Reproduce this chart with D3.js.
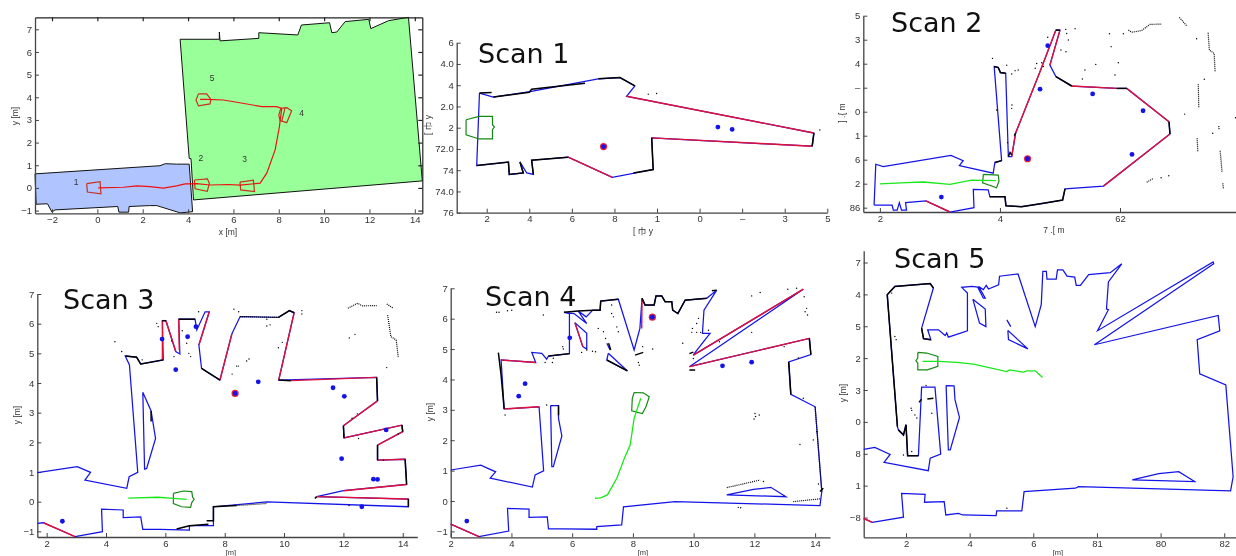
<!DOCTYPE html>
<html>
<head>
<meta charset="utf-8">
<script src="https://cdnjs.cloudflare.com/ajax/libs/d3/7.8.5/d3.min.js"></script>
<style>
html, body { margin: 0; padding: 0; background: #fff; overflow: hidden; }
svg { display: block; filter: blur(0.3px); }
text { font-family: "Liberation Sans", "Noto Sans CJK SC", sans-serif; fill: #333; }
.title { font-family: "DejaVu Sans", sans-serif; font-size: 27px; fill: #111; }
.tick text { font-size: 9.5px; }
.lbl { font-size: 8.5px; }
.lbl.low { font-size: 7.5px; }
</style>
</head>
<body>
<svg id="fig" width="1236" height="556"></svg>
<script>
// overview map
var mapBlue = [[-2.75,.62],[2.76,.98],[3,1.07],[3.5,1.05],[4.05,1.05],[4.2,-1.05],[3.65,-1.1],[2.62,-.78],[2.3,-.78],[1.4,-.82],[1.38,-1.07],[.95,-1.07],[.9,-.82],[-1.87,-.97],[-2,-1.07],[-2.2,-.7],[-2.7,-.72]];
var mapGreen = [[3.65,6.56],[5.38,6.56],[5.38,6.88],[5.41,6.49],[7.12,6.6],[7.12,6.85],[8.84,6.75],[9,7.19],[10.24,7.29],[10.34,6.85],[10.56,6.88],[10.93,7.34],[11.97,7.44],[12.06,7.03],[12.84,7.38],[13.72,7.53],[14.33,.31],[4.24,-.53],[4.13,1.29],[4.05,1.3]];
var mapPath = [[.04,0],[1.15,.03],[1.74,.09],[2.32,.06],[2.91,-.01],[3.5,.09],[3.87,.18],[4.38,.19],[4.97,.13],[5.78,.15],[6.29,.12],[7.18,.21],[7.47,.65],[7.84,1.68],[8.03,2.71],[8.13,3.51],[7.91,3.59],[7.25,3.59],[6.15,3.78],[5.56,3.88],[4.82,3.91],[4.53,3.91]];
var mapRobots = [
  [[-.47,.19],[.12,.28],[.16,-.26],[-.44,-.18]],
  [[4.28,.35],[4.85,.4],[4.94,.21],[4.85,-.15],[4.31,-.04]],
  [[6.29,.26],[6.88,.34],[6.93,-.16],[6.32,-.09]],
  [[8.09,3.51],[8.35,3.54],[8.57,3.41],[8.35,2.88],[8.06,2.97],[8,3.22]],
  [[4.46,4.15],[4.82,4.15],[5.01,3.91],[4.97,3.71],[4.46,3.62],[4.35,3.88]]
];
var mapRobotEdge = [[8.28,3.54],[8.13,2.93]];
var mapMarks = ["1","2","3","4","5"];
var mapMarkPos = [[-.94,.13],[4.56,1.19],[6.49,1.15],[9.01,3.16],[5.06,4.72]];

// scan 1
var s1Map = [[[1.66,3.63],[1.53,.22],[3.02,.38],[3.06,-.2],[3.72,-.13],[3.56,.39],[3.88,-.13],[4.19,-.2],[4.11,.47],[5.83,.61],[7.9,-.34],[9.82,.03],[9.75,1.52],[17.29,1.13],[17.37,1.75],[8.57,3.48],[8.96,3.97],[8.26,4.36],[7.24,4.3],[4.03,3.7],[2.31,3.44],[1.66,3.63]]];
var s1Red = [[[5.83,.61],[7.9,-.34]],[[9.75,1.52],[17.29,1.13]],[[17.37,1.75],[8.57,3.48]]];
var s1Scan = [[[1.53,.22],[3.02,.38],[3.06,-.2],[3.72,-.13],[3.56,.39]],[[4.19,-.2],[4.11,.47],[5.83,.61]],[[8.89,-.13],[9.82,.03],[9.75,1.52]],[[17.29,1.13],[17.37,1.75]],[[8.96,3.97],[8.26,4.36],[7.24,4.3]],[[6.62,4.09],[4.11,3.81],[4,3.67],[2.31,3.44]],[[1.66,3.63],[2.23,3.66]]];
var s1Dots = [[9.59,3.58],[9.98,3.61],[17.65,1.89]];
var s1Stars = [[12.86,2.03],[13.53,1.92]];
var s1Hit = [7.49,1.11];
var s1Robot = [[1.03,2.375],[1.64,2.53],[2.27,2.53],[2.27,2.14],[2.36,2.03],[2.27,1.91],[2.27,1.47],[1.64,1.47],[1.03,1.67]];
var s1Path = [];
var s1XLabels = ["2","4","6","8","1","0","–","3","5"];
var s1YLabels = ["76","74.0","74","72.0","2","2.0","4","4.0","6"];

// scan 2
var s2Map = [[[1.76,.11],[1.83,1.81],[2.14,1.71],[4.96,2.18],[5.47,1.96],[5.31,1.75],[6.72,1.44],[6.79,1.88],[7.07,1.96],[6.76,5.88],[6.93,5.84],[7.02,5.63],[7.24,5.6],[7.35,2.13],[7.49,2.125],[7.65,3.1],[8.67,5.67],[9.33,7.4],[9.5,7.4],[9.08,5.94],[9.33,5.46],[9.99,5.07],[11.86,4.97],[12.28,4.97],[14.04,3.58],[14.08,3.07],[11.31,.9],[9.71,.78],[9.61,.32],[8.81,.18],[7.9,.04],[7.25,.08],[7.21,.46],[6.58,.46],[6.51,.74],[5.89,.76],[5.92,0],[4.92,-.18],[3.92,.28],[3.07,.21],[3.11,-.1],[2.9,-.1],[2.81,.21],[2.72,-.1],[2.56,-.1],[2.51,.11],[1.76,.11]]];
var s2Red = [[[7.49,2.125],[7.65,3.1],[8.67,5.67],[9.33,7.4]],[[9.5,7.4],[9.08,5.94]],[[9.99,5.07],[11.86,4.97]],[[12.28,4.97],[14.04,3.58]],[[14.08,3.07],[11.31,.9]],[[4.92,-.18],[3.92,.28]]];
var s2Scan = [[[6.79,1.88],[7.07,1.96]],[[7.35,2.13],[7.42,2.3],[7.49,2.2]],[[7.6,3.0],[7.65,3.1]],[[9.33,7.4],[9.5,7.4]],[[9.33,5.46],[9.99,5.07]],[[11.86,4.97],[12.28,4.97]],[[14.04,3.58],[14.08,3.07]],[[9.71,.78],[9.61,.32],[8.81,.18],[7.9,.04],[7.25,.08],[7.21,.46],[6.58,.46]],[[6.76,5.88],[6.93,5.84],[7.02,5.63],[7.24,5.6]]];
var s2Dots = [[6.69,6.22],[8.99,7.1],[9.74,7.43],[9.78,7.26],[9.85,6.99],[10.13,7.46],[11.56,7.25],[12.14,7.25],[9.54,6.57],[9.75,6.5],[11.63,6.71],[11.93,6.04],[10.99,5.97],[10.54,5.74],[11.79,5.53],[10.43,5.36],[8.53,6.01],[8.74,6.04],[8.47,5.81],[8.81,5.88],[7.28,5.94],[7.49,5.57],[7.76,5.74],[7.63,5.71],[6.86,4.07],[7.5,4.28],[7.49,4.14],[14.69,3.9],[15.51,5.35],[15.19,7.04],[16.81,3.75],[15.86,3.1],[13.71,1.25],[14.03,1.33],[7.32,2.71]];
var s2Runs = [[[12.35,7.4],[12.49,7.31],[12.9,7.38],[13.25,7.64],[13.74,7.65]],[[14.47,7.93],[14.78,7.57]],[[15.67,7.29],[15.72,6.57],[15.92,6.43],[15.96,5.67]],[[15.26,5.14],[15.28,4.18]],[[15.21,2.89],[15.24,2.33]],[[16.17,2.375],[16.25,1.47]],[[16.28,1.01],[16.31,.76]],[[16.11,3.4],[16.13,3.24]],[[13.11,1.06],[13.39,1.22]]];
var s2Stars = [[8.99,6.75],[8.67,4.94],[10.86,4.74],[12.96,4.04],[12.5,2.22],[4.56,.44]];
var s2Hit = [8.15,2.04];
var s2Robot = [[6.31,1.39],[6.93,1.36],[6.96,1.11],[6.93,1.03],[6.86,.83],[6.28,1.04]];
var s2Path = [[2,.99],[3.11,1.04],[3.81,1.07],[4.92,.97],[5.82,1.15],[6.83,1.13]];
var s2XLabels = ["2","4","62"];
var s2YLabels = ["86","2","6","1","0","–","4","3","5"];

// scan 3
var s3Map = [
  [[1.69,.98],[3.03,1.18],[3.48,.99],[3.29,.73],[4.7,.45],[4.78,.84],[5.07,.99],[4.79,4.61],[4.65,4.91],[5.03,4.87],[5.17,4.64],[5.93,4.78],[5.9,6.1],[6.02,6.1],[6.35,5.06],[6.49,4.98],[6.45,6.15],[7,6.15],[7.06,5.79],[7.34,6.4],[7.48,6.4],[7.13,5.28],[7.22,4.49],[7.84,4.1],[8.24,5.65],[8.52,6.24],[9.81,6.21],[10.18,6.44],[10.34,6.37],[9.82,4.1],[13.12,4.19],[13.15,3.4],[12,2.56],[12.02,2.15],[13.97,2.58],[14,2.36],[13.15,1.91],[13.15,1.4],[14.08,1.43],[14.13,.58],[12,.37],[11.1,.17],[14.19,.09],[14.19,-.17],[9.42,-.01],[7.62,-.17],[7.62,-.81],[6.81,-.81],[6.81,-.955],[5.82,-.93],[5.24,-.93],[5.17,-.51],[4.58,-.54],[4.58,-.28],[3.85,-.25],[3.88,-1.01],[2.96,-1.18],[1.89,-.71],[1.69,-.73]],
  [[5.24,3.69],[5.52,3.06],[5.67,2.13],[5.37,1.12],[5.3,1.1],[5.24,3.69]]
];
var s3Red = [[[1.89,-.71],[2.96,-1.18]],[[5.9,4.78],[5.9,6.1]],[[6.02,6.1],[6.35,5.06]],[[6.45,6.15],[6.47,5.11]],[[7.48,6.4],[7.13,5.28]],[[7.84,4.1],[8.24,5.65]],[[9.82,4.1],[10.34,6.37]],[[10.23,4.08],[13.12,4.19]],[[13.15,3.4],[12,2.56]],[[12.02,2.15],[13.97,2.58]],[[14,2.36],[13.15,1.91]],[[13.15,1.4],[14.08,1.43]],[[14.13,.58],[12,.37]],[[11.1,.17],[14.19,.09]]];
var s3Scan = [[[4.65,4.91],[5.03,4.87],[5.17,4.64],[5.93,4.78]],[[5.9,6.1],[6.02,6.1]],[[6.45,6.15],[7,6.15]],[[7.22,4.49],[7.84,4.1]],[[9.81,6.21],[10.18,6.44],[10.34,6.37]],[[9.82,4.1],[10.23,4.08]],[[13.12,4.19],[13.15,3.4]],[[12,2.56],[12.02,2.15]],[[13.97,2.58],[14,2.36]],[[13.15,1.91],[13.15,1.4]],[[14.08,1.43],[14.13,.58]],[[11.1,.17],[11.04,.11]],[[14.19,.09],[14.19,-.17]],[[5.52,3.06],[5.52,2.7]],[[6.38,-.92],[6.81,-.81],[7.45,-.76]],[[7.39,-.64],[7.62,-.64],[7.62,-.17],[8.4,-.13]]];
var s3Dots = [[4.3,5.39],[4.53,5.06],[5.22,4.78],[5.71,6.01],[5.76,5.9],[6.21,5.42],[6.57,5.76],[6.72,5.34],[6.79,5],[6.85,4.89],[6.29,4.89],[7.12,6.4],[8.31,6.49],[8.47,6.4],[9.42,6.15],[9.42,5.92],[9.53,5.96],[9.81,5.19],[9.94,5.37],[10.6,6.44],[10.6,6.33],[8.25,4.3],[8.4,4.57],[8.46,4.57],[8.74,4.74],[8.82,4.81],[12.2,5.52],[12.39,5.64],[13.46,4.52],[12.47,2.96],[12.29,2.81],[12.51,2.13],[12.19,-.13],[13.35,1.4],[13.85,2.28]];
var s3Runs = [[[12.15,6.52],[12.48,6.69],[12.62,6.6],[13.12,6.61]],[[13.46,6.66],[13.69,6.52]],[[13.49,6.29],[13.6,5.56],[13.78,5.45],[13.85,4.85]],[[8.52,6.24],[9.81,6.21]],[[8.4,-.13],[9.42,-.06]]];
var s3Stars = [[5.89,5.48],[6.35,4.45],[6.75,5.56],[7.03,5.9],[9.13,4.04],[11.65,3.84],[12.03,3.55],[13.44,2.42],[11.94,1.45],[13.01,.76],[13.15,.75],[12.62,-.17],[2.53,-.66]];
var s3Hit = [8.35,3.65];
var s3Robot = [[6.27,.28],[6.61,.36],[6.89,.34],[6.92,.15],[6.97,.08],[6.89,-.03],[6.85,-.19],[6.55,-.17],[6.27,-.06]];
var s3Path = [[4.75,.12],[5.76,.15],[6.27,.11],[6.72,.08]];
var s3XLabels = ["2","4","6","8","10","12","14"];
var s3YLabels = ["−1","0","1","2","3","4","5","6","7"];

// scan 4
var s4Map = [
  [[2,1.02],[2.99,1.18],[3.48,.96],[3.3,.75],[4.69,.46],[4.78,.86],[5.06,.99],[4.91,3.1],[3.76,3.03],[3.66,4.64],[4.8,4.56],[4.67,4.89],[5,4.86],[5.16,4.67],[5.22,4.77],[5.91,4.85],[5.91,6.17],[5.73,6.21],[6.06,6.17],[6.48,5.84],[6.2,6.25],[6.46,6.06],[6.68,6.28],[6.92,6.28],[6.94,6.58],[7.52,6.64],[8.04,4.97],[8.23,5.68],[8.3,6.67],[8.4,6.45],[8.7,6.45],[8.76,6.75],[8.95,6.75],[9.06,6.56],[9.28,6.56],[9.31,6.28],[9.48,6.17],[9.72,6.61],[10.43,6.67],[10.76,6.94],[10.34,6.28],[10.29,5.52],[10.54,5.52],[10.05,4.89],[9.99,4.8],[13.61,6.97],[9.86,4.42],[13.81,5.35],[13.86,4.82],[13.13,4.58],[13.2,3.51],[14,3.1],[14.22,.31],[14.16,-.15],[9.39,-.02],[7.69,-.19],[7.63,-.79],[6.81,-.84],[6.81,-.93],[5.66,-.92],[5.22,-.92],[5.18,-.52],[4.58,-.54],[4.58,-.27],[3.87,-.24],[3.91,-.99],[2.93,-1.17],[2,-.76]],
  [[6.09,5.87],[6.35,5.08],[6.48,5],[6.48,5.52],[6.09,5.87]],
  [[7.19,4.86],[7.82,4.28],[7.14,4.64],[7.19,4.86]],
  [[5.29,3.14],[5.55,3.14],[5.55,2.72],[5.66,2.14],[5.38,1.13],[5.33,1.13],[5.29,3.14]],
  [[11.09,.2],[11.97,.38],[12.54,.45],[13.04,.14],[11.09,.2]],
  [[7.14,5.19],[7.25,4.97]]
];
var s4Red = [[[2,-.76],[2.93,-1.17]],[[3.76,3.03],[4.91,3.1]],[[3.66,4.64],[4.8,4.56]],[[6.09,5.87],[6.35,5.08]],[[8.3,6.67],[8.29,5.68]],[[9.99,4.8],[13.61,6.97]],[[9.86,4.42],[13.81,5.35]]];
var s4Scan = [[[3.57,4.88],[3.66,4.14],[3.76,3.03]],[[5.22,4.77],[5.91,4.85]],[[5.73,6.21],[6.2,6.25],[6.68,6.28],[6.92,6.28],[6.94,6.58],[7.52,6.64]],[[8.3,6.67],[8.4,6.45],[8.7,6.45],[8.76,6.75],[8.95,6.75],[9.06,6.56],[9.28,6.56],[9.31,6.28],[9.48,6.17],[9.72,6.61],[10.43,6.67]],[[10.6,6.92],[10.76,6.94]],[[13.81,5.35],[13.86,4.82]],[[13.13,4.58],[13.2,3.51]],[[5.55,3.14],[5.55,2.82]],[[14.16,.31],[14.27,.42]],[[8.07,4.8],[8.34,4.89]],[[7.2,5.19],[7.27,4.97]],[[7.14,4.64],[7.82,4.28]],[[9.86,4.85],[9.99,4.9]],[[9.86,4.31],[10.05,4.31]]];
var s4Dots = [[3.51,6.21],[3.59,6.21],[3.87,6.26],[4.01,6.28],[5.05,6.12],[5.69,5.08],[5.71,5],[5.11,4.56],[5.35,4.56],[5.38,4.7],[3.79,2.83],[5.16,3.16],[5.33,3.14],[6.31,4.89],[6.48,4.97],[6.77,4.91],[6.67,4.93],[6.86,5.68],[7.03,5.57],[7.1,5.35],[7.3,6.17],[7.36,6.06],[7.3,6.45],[7.47,5.73],[7.52,5.57],[8.18,4.56],[8.21,4.47],[8.65,5],[8.32,5.08],[9.64,5.19],[9.96,5.68],[9.94,5.55],[10.1,5.55],[10.23,5.55],[10.49,5.62],[10.16,6.01],[10.1,5.84],[9.99,4.69],[10.85,5.24],[11.91,5.55],[11.91,6.75],[12.19,6.86],[13.1,6.97],[13.39,7],[13.64,6.72],[13.72,6.34],[13.67,6.23],[13.75,6.12],[12.98,5.08],[13.45,4.71],[13.61,3.38],[12.02,2.88],[12.16,2.83],[11.99,2.7],[12.04,2.78],[13.5,1.86],[13.94,2.01],[12.3,.64],[11.47,-.21],[11.55,-.22],[14.11,.56],[14.05,2.28]];
var s4Runs = [[[14,3.1],[14.22,.31]],[[13.28,-.02],[14.16,.07]],[[11.09,.44],[12.19,.69]]];
var s4Stars = [[2.53,-.66],[4.24,3.45],[4.45,3.86],[5.92,5.37],[10.95,4.45],[11.91,4.57]];
var s4Hit = [8.64,6.05];
var s4Robot = [[8.04,3.57],[8.34,3.56],[8.54,3.43],[8.43,3.1],[8.31,2.88],[7.96,2.97],[7.98,3.38]];
var s4Path = [[6.75,.09],[6.94,.1],[7.16,.2],[7.47,.75],[7.74,1.46],[7.91,1.84],[8.04,2.72],[8.26,3.38]];
var s4XLabels = ["2","4","6","8","10","12","14"];
var s4YLabels = ["−1","0","1","2","3","4","5","6","7"];

// scan 5
var s5Map = [
  [[.67,1.14],[1.02,1.2],[1.5,.98],[1.31,.73],[2.7,.47],[2.76,.86],[3.09,.99],[2.91,3.09],[2.49,3.09],[2.39,.94],[2.05,.94],[2,1.91],[1.92,1.59],[1.76,1.75],[1.73,1.85],[1.41,5.99],[1.65,6.25],[2.76,6.34],[2.86,6.2],[2.49,4.94],[2.55,4.61],[2.78,4.58],[2.68,4.89],[3.02,4.89],[3.23,4.71],[3.28,4.79],[3.33,4.66],[3.93,4.86],[3.93,6.04],[3.75,6.22],[4.07,6.25],[4.25,6.23],[4.43,5.88],[4.49,5.88],[4.28,6.25],[4.43,6.15],[4.52,6.28],[4.59,6.17],[4.91,6.3],[4.94,6.57],[5.52,6.64],[6.06,4.99],[6.25,5.68],[6.3,6.72],[6.41,6.72],[6.43,6.48],[6.72,6.48],[6.76,6.77],[6.93,6.77],[7.06,6.57],[7.3,6.54],[7.35,6.28],[7.48,6.28],[7.74,6.62],[8.42,6.68],[8.78,6.96],[8.36,6.39],[8.3,5.54],[8.36,5.52],[8.02,4.86],[11.65,7.02],[11.67,6.96],[7.92,4.42],[11.81,5.34],[11.86,4.86],[11.15,4.58],[11.23,3.51],[12.05,3.16],[12.28,.28],[12.2,-.16],[7.42,-.03],[7.32,-.08],[5.71,-.19],[5.64,-.79],[4.85,-.79],[4.83,-.94],[3.78,-.92],[3.65,-.87],[3.25,-.92],[3.2,-.5],[2.58,-.52],[2.6,-.27],[1.86,-.24],[1.92,-.99],[.94,-1.15],[.67,-1.03]],
  [[4.1,5.85],[4.31,5.1],[4.51,4.99],[4.49,5.54],[4.1,5.85]],
  [[5.17,5.2],[5.29,4.99]],
  [[5.2,4.87],[5.83,4.29],[5.22,4.58],[5.2,4.87]],
  [[3.26,3.14],[3.51,3.13],[3.54,2.69],[3.68,2.14],[3.39,1.12],[3.33,1.12],[3.26,3.14]],
  [[9.11,.18],[9.94,.38],[10.57,.44],[11.07,.13],[9.11,.18]]
];
var s5Red = [[[.67,-1.03],[.94,-1.15]]];
var s5Scan = [[[1.73,1.85],[1.41,5.99],[1.65,6.25],[2.76,6.34],[2.86,6.2]],[[1.76,1.75],[1.92,1.59],[2,1.91],[2.05,.94],[2.39,.94]],[[2.49,4.94],[2.55,4.61],[2.78,4.58]],[[2.41,2.62],[2.49,2.71]],[[2.67,2.72],[2.86,2.74]]];
var s5Dots = [[2.16,2.43],[2.18,2.36],[2.28,2.22],[2.34,2.12],[2.81,2.27],[1.65,4.68],[1.69,4.58],[1.92,.96],[2.18,1.07],[2.63,3.14],[5.17,-.71],[1.5,6.09],[1.55,6.04]];
var s5Robot = [[2.37,4.18],[2.65,4.16],[3,4.05],[3,3.74],[2.67,3.63],[2.37,3.63],[2.37,3.84],[2.31,3.92],[2.37,4]];
var s5Path = [[2.52,3.9],[3.02,3.9],[3.6,3.87],[4.12,3.81],[5.17,3.58],[5.25,3.63],[5.69,3.56],[5.8,3.6],[6.06,3.6],[6.29,3.39]];
var s5XLabels = ["2","4","6","81","80","82"];
var s5YLabels = ["−8","1","8","0","3","2","5","4","7"];

var svg = d3.select("#fig");
var line = function(x, y) {
  return d3.line().x(function(d) { return x(d[0]); }).y(function(d) { return y(d[1]); });
};

function drawAxes(p) {
  var g = svg.append("g");
  var xAxis = d3.axisBottom(p.x).tickValues(p.xTicks).tickSizeInner(-4).tickSizeOuter(0).tickPadding(3)
    .tickFormat(function(d, i) { return p.xLabels[i]; });
  var yAxis = d3.axisLeft(p.y).tickValues(p.yTicks).tickSizeInner(-4).tickSizeOuter(0).tickPadding(3)
    .tickFormat(function(d, i) { return p.yLabels[i]; });
  g.append("g").attr("transform", "translate(0," + p.y.range()[0] + ")").call(xAxis);
  g.append("g").attr("transform", "translate(" + p.x.range()[0] + ",0)").call(yAxis);
  g.selectAll(".domain").attr("stroke", "#444").attr("stroke-width", 1.3);
  g.selectAll(".tick line").attr("stroke", "#444");
  return g;
}

function drawLines(data, x, y, color, w, dash) {
  svg.append("g").selectAll("path").data(data).enter().append("path")
    .attr("d", line(x, y))
    .attr("fill", "none")
    .attr("stroke", color)
    .attr("stroke-width", w)
    .attr("stroke-dasharray", dash || null);
}

function drawScan(p, s) {
  drawLines(s.map, p.x, p.y, "#1414e8", 1.25);
  drawLines(s.red, p.x, p.y, "#e0103a", 1.4);
  drawLines(s.scan, p.x, p.y, "#000", 1.5);
  drawLines(s.runs || [], p.x, p.y, "#000", 1.2, "1 1");
  svg.append("g").selectAll("circle").data(s.dots).enter().append("circle")
    .attr("cx", function(d) { return p.x(d[0]); })
    .attr("cy", function(d) { return p.y(d[1]); })
    .attr("r", .7)
    .attr("fill", "#000");
  if (s.hit) {
    svg.append("circle").attr("cx", p.x(s.hit[0])).attr("cy", p.y(s.hit[1]))
      .attr("r", 3.6).attr("fill", "#e8203a");
  }
  svg.append("g").selectAll("circle").data((s.stars || []).concat(s.hit ? [s.hit] : [])).enter().append("circle")
    .attr("cx", function(d) { return p.x(d[0]); })
    .attr("cy", function(d) { return p.y(d[1]); })
    .attr("r", 2.4)
    .attr("fill", "#1414e8");
  drawLines([s.robot.concat([s.robot[0]])], p.x, p.y, "#148a14", 1.2);
  drawLines([s.path], p.x, p.y, "#18e818", 1.3);
}

function label(txt, x, y, rot, low) {
  var t = svg.append("text").attr("class", low ? "lbl low" : "lbl").attr("text-anchor", "middle").text(txt);
  if (rot) t.attr("transform", "translate(" + x + "," + y + ") rotate(-90)");
  else t.attr("x", x).attr("y", y);
}

function title(txt, x, y) {
  svg.append("text").attr("class", "title").attr("x", x).attr("y", y).text(txt);
}

// overview
var mx = d3.scaleLinear().domain([-2.75, 14.33]).range([35, 422.3]);
var my = d3.scaleLinear().domain([-1.12, 7.53]).range([213.3, 17.3]);
svg.append("path").datum(mapGreen.concat([mapGreen[0]])).attr("d", line(mx, my)).attr("fill", "#99ff99").attr("stroke", "#111").attr("stroke-width", 1);
svg.append("path").datum(mapBlue.concat([mapBlue[0]])).attr("d", line(mx, my)).attr("fill", "#b0c4ff").attr("stroke", "#111").attr("stroke-width", 1);
drawLines(mapRobots.map(function(r) { return r.concat([r[0]]); }), mx, my, "#c8301e", 1.2);
drawLines([mapRobotEdge], mx, my, "#c8301e", 1.2);
drawLines([mapPath], mx, my, "#ee1111", 1.2);
svg.append("g").selectAll("text").data(mapMarks).enter().append("text")
  .attr("x", function(d, i) { return mx(mapMarkPos[i][0]); })
  .attr("y", function(d, i) { return my(mapMarkPos[i][1]); })
  .attr("text-anchor", "middle")
  .attr("font-size", 8.5)
  .text(function(d) { return d; });
var mapXTicks = [-2,0,2,4,6,8,10,12,14];
var mapYTicks = [-1,0,1,2,3,4,5,6,7];
drawAxes({x: mx, y: my, xTicks: mapXTicks, yTicks: mapYTicks,
  xLabels: ["−2","0","2","4","6","8","10","12","14"], yLabels: ["−1","0","1","2","3","4","5","6","7"]});
svg.append("g").attr("transform", "translate(0," + my.range()[1] + ")")
  .call(d3.axisTop(mx).tickValues(mapXTicks).tickSizeInner(-4).tickSizeOuter(0).tickFormat(""))
  .call(function(g) { g.selectAll(".domain,.tick line").attr("stroke", "#222").attr("stroke-width", 1.2); });
svg.append("g").attr("transform", "translate(" + mx.range()[1] + ",0)")
  .call(d3.axisRight(my).tickValues(mapYTicks).tickSizeInner(-4).tickSizeOuter(0).tickFormat(""))
  .call(function(g) { g.selectAll(".domain,.tick line").attr("stroke", "#222").attr("stroke-width", 1.2); });
label("x [m]", 228, 235);
label("y [m]", 18, 116, true);

// panels
var p1 = {x: d3.scaleLinear().domain([.59, 18]).range([456.7, 827.3]), y: d3.scaleLinear().domain([-2, 6]).range([212.7, 42.7]),
  xTicks: [2,4,6,8,10,12,14,16,18], yTicks: [-2,-1,0,1,2,3,4,5,6], xLabels: s1XLabels, yLabels: s1YLabels};
drawAxes(p1);
drawScan(p1, {map: s1Map, red: s1Red, scan: s1Scan, dots: s1Dots, stars: s1Stars, hit: s1Hit, robot: s1Robot, path: s1Path});
label("[ 巾 y", 643, 234);
label("[ 巾 y", 431, 125, true);
title("Scan 1", 478, 63);

var p2 = {x: d3.scaleLinear().domain([1.31, 16.83]).range([863.3, 1236]), y: d3.scaleLinear().domain([-.18, 8]).range([212, 15.7]),
  xTicks: [2,7,12], yTicks: [0,1,2,3,4,5,6,7,8], xLabels: s2XLabels, yLabels: s2YLabels};
drawAxes(p2);
drawScan(p2, {map: s2Map, red: s2Red, scan: s2Scan, runs: s2Runs, dots: s2Dots, stars: s2Stars, hit: s2Hit, robot: s2Robot, path: s2Path});
label("7 .[  m", 1054, 233);
label("] .{  m", 845, 113, true);
title("Scan 2", 891, 32);

var p3 = {x: d3.scaleLinear().domain([1.685, 14.49]).range([37.3, 417.3]), y: d3.scaleLinear().domain([-1.19, 7]).range([537, 294]),
  xTicks: [2,4,6,8,10,12,14], yTicks: [-1,0,1,2,3,4,5,6,7], xLabels: s3XLabels, yLabels: s3YLabels};
drawAxes(p3);
drawScan(p3, {map: s3Map, red: s3Red, scan: s3Scan, runs: s3Runs, dots: s3Dots, stars: s3Stars, hit: s3Hit, robot: s3Robot, path: s3Path});
label("[m]", 231, 555, false, true);
label("y [m]", 20, 415, true);
title("Scan 3", 63, 309);

var p4 = {x: d3.scaleLinear().domain([2, 14.49]).range([450.7, 830]), y: d3.scaleLinear().domain([-1.195, 7]).range([537.3, 288.3]),
  xTicks: [2,4,6,8,10,12,14], yTicks: [-1,0,1,2,3,4,5,6,7], xLabels: s4XLabels, yLabels: s4YLabels};
drawAxes(p4);
drawScan(p4, {map: s4Map, red: s4Red, scan: s4Scan, runs: s4Runs, dots: s4Dots, stars: s4Stars, hit: s4Hit, robot: s4Robot, path: s4Path});
label("[m]", 643, 555, false, true);
label("y [m]", 433, 412, true);
title("Scan 4", 485, 306);

var p5 = {x: d3.scaleLinear().domain([.67, 12.37]).range([863.7, 1236]), y: d3.scaleLinear().domain([-1.62, 7.37]).range([537.3, 250.7]),
  xTicks: [2,4,6,8,10,12], yTicks: [-1,0,1,2,3,4,5,6,7], xLabels: s5XLabels, yLabels: s5YLabels};
drawAxes(p5);
drawScan(p5, {map: s5Map, red: s5Red, scan: s5Scan, dots: s5Dots, robot: s5Robot, path: s5Path});
label("[m]", 1058, 555, false, true);
label("y [m]", 846, 393, true);
title("Scan 5", 894, 268);
</script>
</body>
</html>
